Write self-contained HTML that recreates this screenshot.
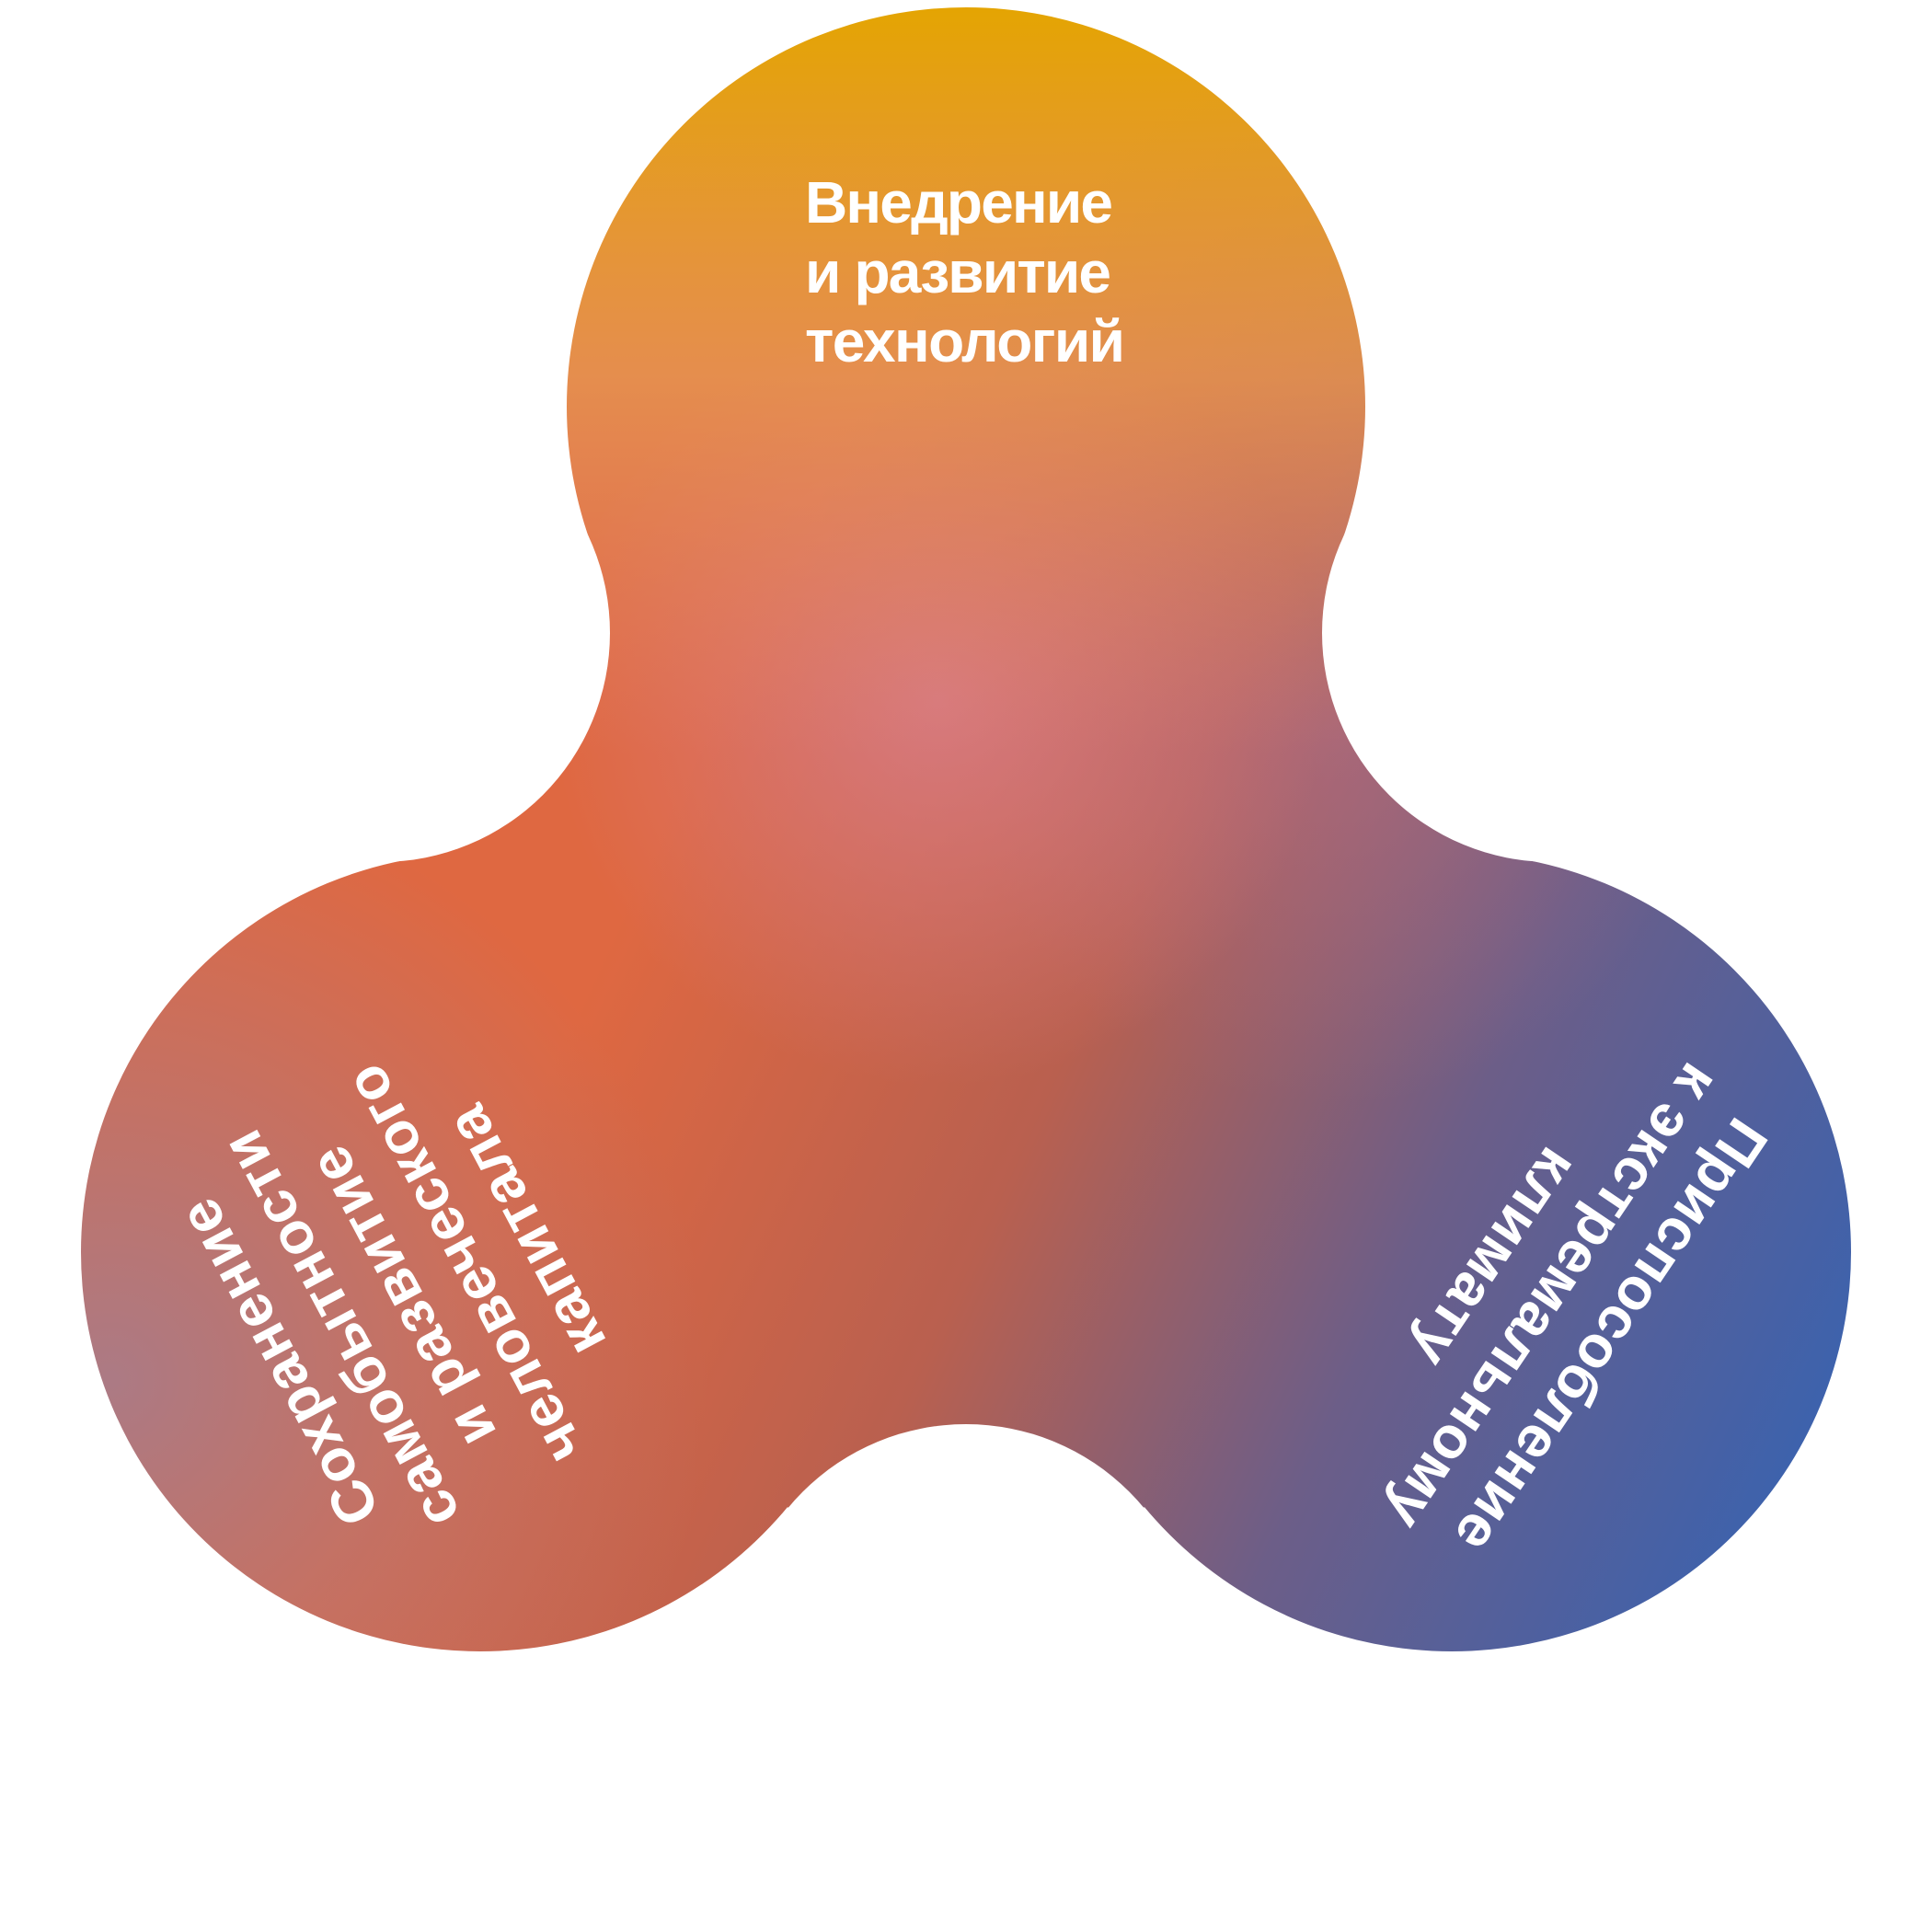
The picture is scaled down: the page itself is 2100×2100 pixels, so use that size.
<!DOCTYPE html>
<html><head><meta charset="utf-8"><style>
html,body{margin:0;padding:0;background:#fff;}
svg{display:block;}
text{font-family:"Liberation Sans",sans-serif;font-weight:bold;fill:#fff;}
</style></head><body>
<svg width="2100" height="2100" viewBox="0 0 2100 2100" xmlns="http://www.w3.org/2000/svg">
<defs>
<mask id="m" maskUnits="userSpaceOnUse" x="0" y="0" width="2100" height="2100">
<rect width="2100" height="2100" fill="#000"/>
<circle cx="1050" cy="442" r="434" fill="#fff"/>
<circle cx="522" cy="1361" r="434" fill="#fff"/>
<circle cx="1578" cy="1361" r="434" fill="#fff"/>
<polygon points="1050,442 1686,688 1578,1361 1050,1799 522,1361 414,688" fill="#fff"/>
<circle cx="414" cy="688" r="249" fill="#000"/>
<circle cx="1686" cy="688" r="249" fill="#000"/>
<circle cx="1050" cy="1799" r="251" fill="#000"/>
</mask>
<linearGradient id="g1" gradientUnits="userSpaceOnUse" x1="650" y1="1050" x2="1950" y2="1650">
<stop offset="0" stop-color="#df6841"/>
<stop offset="0.35" stop-color="#b9604f"/>
<stop offset="0.65" stop-color="#6c5e88"/>
<stop offset="1" stop-color="#3b62ae"/>
</linearGradient>
<linearGradient id="g2" gradientUnits="userSpaceOnUse" x1="0" y1="0" x2="0" y2="820">
<stop offset="0" stop-color="#e4a500" stop-opacity="1"/>
<stop offset="0.5" stop-color="#e79a52" stop-opacity="0.75"/>
<stop offset="1" stop-color="#e48a70" stop-opacity="0"/>
</linearGradient>
<radialGradient id="g3" gradientUnits="userSpaceOnUse" cx="1020" cy="760" r="420">
<stop offset="0" stop-color="#d87d88" stop-opacity="0.85"/>
<stop offset="1" stop-color="#d87d88" stop-opacity="0"/>
</radialGradient>
<radialGradient id="g4" gradientUnits="userSpaceOnUse" cx="120" cy="1500" r="650">
<stop offset="0" stop-color="#a97b88" stop-opacity="0.95"/>
<stop offset="1" stop-color="#a97b88" stop-opacity="0"/>
</radialGradient>
<radialGradient id="g5" gradientUnits="userSpaceOnUse" cx="1450" cy="800" r="400">
<stop offset="0" stop-color="#b07090" stop-opacity="0.5"/>
<stop offset="1" stop-color="#b07090" stop-opacity="0"/>
</radialGradient>
</defs>
<g mask="url(#m)">
<rect width="2100" height="2100" fill="url(#g1)"/>
<rect width="2100" height="2100" fill="url(#g5)"/>
<rect width="2100" height="2100" fill="url(#g4)"/>
<rect width="2100" height="2100" fill="url(#g3)"/>
<rect width="2100" height="2100" fill="url(#g2)"/>
</g>
<text x="875" y="242" font-size="64" textLength="335" lengthAdjust="spacing">Внедрение</text>
<text x="875" y="318" font-size="64" textLength="333" lengthAdjust="spacing">и развитие</text>
<text x="875" y="393" font-size="64" textLength="348" lengthAdjust="spacing">технологий</text>
<g transform="translate(322,1470) rotate(-118)" text-anchor="middle" font-size="64" letter-spacing="1">
<text x="0" y="0">Сохранение</text>
<text x="0" y="76">самобытности</text>
<text x="0" y="152">и развитие</text>
<text x="0" y="228">человеческого</text>
<text x="0" y="304">капитала</text>
</g>
<g transform="translate(1733,1440) rotate(124)" text-anchor="middle" font-size="64" letter-spacing="1">
<text x="0" y="0">Приспособление</text>
<text x="0" y="76">к экстремальному</text>
<text x="0" y="152">климату</text>
</g>
</svg>
</body></html>
